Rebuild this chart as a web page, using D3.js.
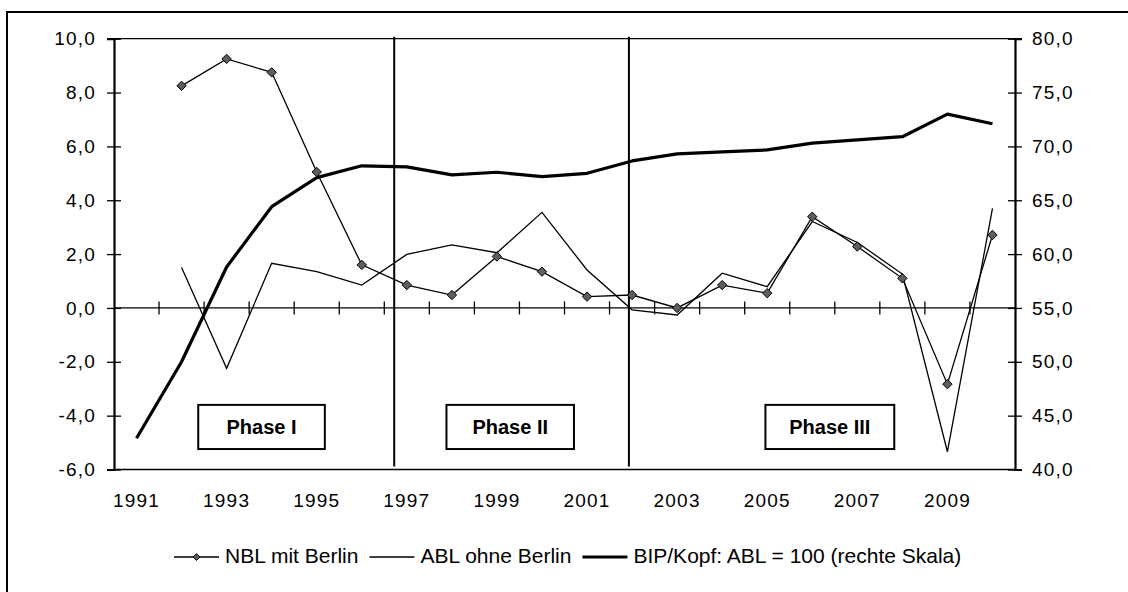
<!DOCTYPE html>
<html>
<head>
<meta charset="utf-8">
<script src="https://cdn.jsdelivr.net/npm/d3@7"></script>
<style>
body { margin: 0; background: #fff; }
text { font-family: "Liberation Sans", Arial, sans-serif; fill: #000; }
</style>
</head>
<body>
<div id="chart"></div>
<script>
var years = [1991, 1992, 1993, 1994, 1995, 1996, 1997, 1998, 1999, 2000,
             2001, 2002, 2003, 2004, 2005, 2006, 2007, 2008, 2009, 2010];
var yearLabels = [1991, 1993, 1995, 1997, 1999, 2001, 2003, 2005, 2007, 2009];

// Wachstum (linke Skala)
var nbl = [null, 8.25, 9.25, 8.75, 5.05, 1.60, 0.85, 0.48, 1.91, 1.35,
           0.42, 0.48, 0.00, 0.85, 0.55, 3.39, 2.28, 1.10, -2.83, 2.71];
var abl = [null, 1.50, -2.24, 1.66, 1.35, 0.85, 1.99, 2.34, 2.05, 3.55,
           1.41, -0.07, -0.26, 1.29, 0.79, 3.21, 2.43, 1.26, -5.34, 3.70];
// BIP/Kopf (rechte Skala)
var bip = [42.9, 50.0, 58.8, 64.4, 67.1, 68.2, 68.1, 67.35, 67.6, 67.2,
           67.5, 68.65, 69.3, 69.5, 69.67, 70.3, 70.6, 70.9, 73.0, 72.1];

var leftTicks = [-6, -4, -2, 0, 2, 4, 6, 8, 10];
var rightTicks = [40, 45, 50, 55, 60, 65, 70, 75, 80];

var phaseBreaks = [1996.72, 2001.93];
var phaseNames = ["Phase I", "Phase II", "Phase III"];
var phaseFrom = [1992.37, 1997.88, 2004.96];
var phaseTo = [1995.18, 2000.71, 2007.82];

var width = 1128, height = 592;
var margin = {top: 38.7, right: 113, bottom: 122.5, left: 114};
var w = width - margin.left - margin.right,
    h = height - margin.top - margin.bottom;

// German decimal comma, plain hyphen for negatives
var fmt = function(d) { return d3.format(".1f")(d).replace(".", ",").replace("\u2212", "-"); };

var svg = d3.select("#chart").append("svg")
  .attr("width", width)
  .attr("height", height);

// outer frame (runs off the picture at right and bottom)
svg.append("rect")
  .attr("x", 7).attr("y", 12)
  .attr("width", 1300).attr("height", 800)
  .attr("fill", "none").attr("stroke", "#000").attr("stroke-width", 2);

var g = svg.append("g")
  .attr("transform", "translate(" + margin.left + "," + margin.top + ")");

var x = d3.scaleBand().domain(years).range([0, w]).padding(0);
var xYear = d3.scaleLinear().domain([1990.5, 2010.5]).range([0, w]);
var y = d3.scaleLinear().domain([-6, 10]).range([h, 0]);
var y2 = d3.scaleLinear().domain([40, 80]).range([h, 0]);
var cx = function(yr) { return x(yr) + x.bandwidth() / 2; };

// plot border top/bottom
g.append("line").attr("x1", 0).attr("x2", w).attr("y1", 0).attr("y2", 0)
  .attr("stroke", "#000").attr("stroke-width", 1.2);
g.append("line").attr("x1", 0).attr("x2", w).attr("y1", h).attr("y2", h)
  .attr("stroke", "#000").attr("stroke-width", 1.5);

// left axis
var yAxis = g.append("g")
  .call(d3.axisLeft(y).tickValues(leftTicks).tickFormat(fmt).tickSize(7).tickPadding(11));
yAxis.select(".domain").attr("stroke-width", 2.2);
yAxis.selectAll(".tick line").attr("x1", -7).attr("x2", 7).attr("stroke-width", 1.3);
yAxis.selectAll("text").attr("font-size", 19).attr("letter-spacing", 1.2)
  .attr("font-family", "Liberation Sans, Arial, sans-serif").attr("fill", "#000");

// right axis
var yAxis2 = g.append("g")
  .attr("transform", "translate(" + w + ",0)")
  .call(d3.axisRight(y2).tickValues(rightTicks).tickFormat(fmt).tickSize(7).tickPadding(10));
yAxis2.select(".domain").attr("stroke-width", 2.2);
yAxis2.selectAll(".tick line").attr("x1", -7).attr("x2", 7).attr("stroke-width", 1.3);
yAxis2.selectAll("text").attr("font-size", 19).attr("letter-spacing", 1.2)
  .attr("font-family", "Liberation Sans, Arial, sans-serif").attr("fill", "#000");

// x axis at zero
g.append("line").attr("x1", 0).attr("x2", w).attr("y1", y(0)).attr("y2", y(0))
  .attr("stroke", "#000").attr("stroke-width", 1.3);
g.selectAll(".xtick")
  .data(years.slice(1))
  .enter().append("line")
  .attr("class", "xtick")
  .attr("x1", function(d) { return x(d); })
  .attr("x2", function(d) { return x(d); })
  .attr("y1", y(0) - 6.5).attr("y2", y(0) + 6.5)
  .attr("stroke", "#000").attr("stroke-width", 1.3);

g.selectAll(".xlabel")
  .data(yearLabels)
  .enter().append("text")
  .attr("class", "xlabel")
  .attr("x", function(d) { return cx(d); })
  .attr("y", h + 38)
  .attr("text-anchor", "middle")
  .attr("font-size", 19)
  .attr("letter-spacing", 1.2)
  .text(function(d) { return d; });

// phase dividers
g.selectAll(".phaseline")
  .data(phaseBreaks)
  .enter().append("line")
  .attr("x1", function(d) { return xYear(d); })
  .attr("x2", function(d) { return xYear(d); })
  .attr("y1", -2).attr("y2", h - 3)
  .attr("stroke", "#000").attr("stroke-width", 2);

// phase boxes
var phases = phaseNames.map(function(n, i) { return {name: n, from: phaseFrom[i], to: phaseTo[i]}; });
var pb = g.selectAll(".phase").data(phases).enter().append("g");
pb.append("rect")
  .attr("x", function(d) { return xYear(d.from); })
  .attr("width", function(d) { return xYear(d.to) - xYear(d.from); })
  .attr("y", y(-3.6))
  .attr("height", y(-5.24) - y(-3.6))
  .attr("fill", "#fff").attr("stroke", "#000").attr("stroke-width", 2);
pb.append("text")
  .attr("x", function(d) { return (xYear(d.from) + xYear(d.to)) / 2; })
  .attr("y", (y(-3.6) + y(-5.24)) / 2)
  .attr("dy", "0.36em")
  .attr("text-anchor", "middle")
  .attr("font-size", 20)
  .attr("font-weight", "bold")
  .text(function(d) { return d.name; });

// lines
var lineL = d3.line()
  .defined(function(d) { return d[1] !== null; })
  .x(function(d) { return cx(d[0]); })
  .y(function(d) { return y(d[1]); });
var lineR = d3.line()
  .x(function(d) { return cx(d[0]); })
  .y(function(d) { return y2(d[1]); });

var zip = function(arr) { return years.map(function(yr, i) { return [yr, arr[i]]; }); };

g.append("path").datum(zip(bip))
  .attr("d", lineR).attr("fill", "none")
  .attr("stroke", "#000").attr("stroke-width", 3.2).attr("stroke-linejoin", "round");

g.append("path").datum(zip(abl))
  .attr("d", lineL).attr("fill", "none")
  .attr("stroke", "#000").attr("stroke-width", 1.3);

g.append("path").datum(zip(nbl))
  .attr("d", lineL).attr("fill", "none")
  .attr("stroke", "#000").attr("stroke-width", 1.3);

var diamond = d3.symbol().type(d3.symbolDiamond2).size(56);
g.selectAll(".pt")
  .data(zip(nbl).filter(function(d) { return d[1] !== null; }))
  .enter().append("path")
  .attr("class", "pt")
  .attr("transform", function(d) { return "translate(" + cx(d[0]) + "," + y(d[1]) + ")"; })
  .attr("d", diamond)
  .attr("fill", "#5e5e5e").attr("stroke", "#000").attr("stroke-width", 1);

// legend
var legendItems = [
  {name: "NBL mit Berlin", sw: 1.3, marker: true},
  {name: "ABL ohne Berlin", sw: 1.3, marker: false},
  {name: "BIP/Kopf: ABL = 100 (rechte Skala)", sw: 3.2, marker: false}
];
var lg = svg.append("g");
var lx = 174, ly = 557;
legendItems.forEach(function(it) {
  lg.append("line").attr("x1", lx).attr("x2", lx + 45).attr("y1", ly).attr("y2", ly)
    .attr("stroke", "#000").attr("stroke-width", it.sw);
  if (it.marker) {
    lg.append("path")
      .attr("transform", "translate(" + (lx + 22.5) + "," + ly + ")")
      .attr("d", d3.symbol().type(d3.symbolDiamond2).size(30))
      .attr("fill", "#5e5e5e").attr("stroke", "#000").attr("stroke-width", 1);
  }
  var t = lg.append("text")
    .attr("x", lx + 51).attr("y", ly + 6)
    .attr("font-size", 21)
    .text(it.name);
  lx = lx + 51 + t.node().getComputedTextLength() + 11;
});
</script>
</body>
</html>
